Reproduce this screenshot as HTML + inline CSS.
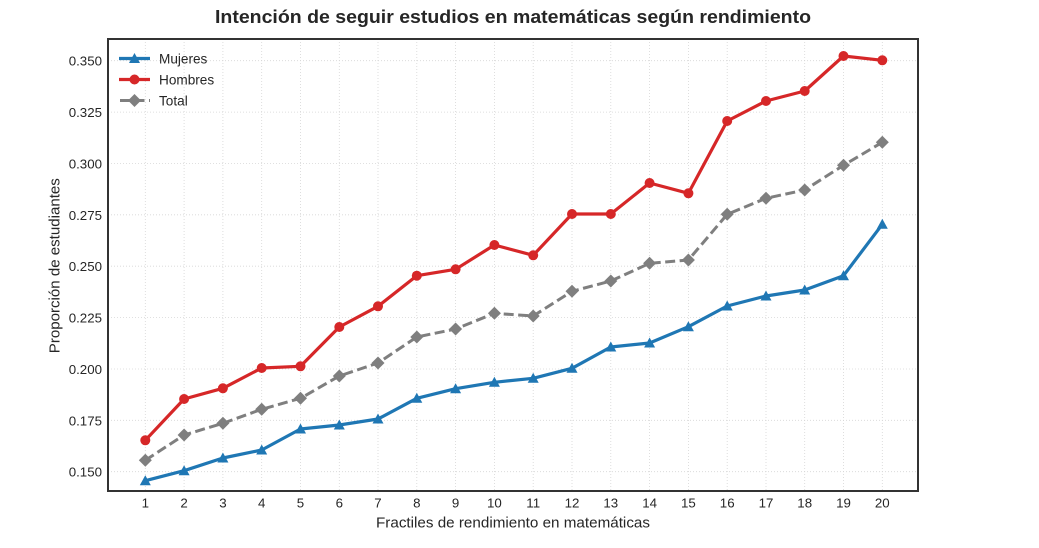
<!DOCTYPE html>
<html><head><meta charset="utf-8"><style>
html,body{margin:0;padding:0;background:#fff;}
svg{display:block;}
text{font-family:"Liberation Sans",Arial,sans-serif;fill:#262626;}
</style></head><body>
<svg width="1039" height="548" viewBox="0 0 1039 548" xmlns="http://www.w3.org/2000/svg">
<rect width="1039" height="548" fill="#fff"/>
<text x="513" y="23" text-anchor="middle" font-size="18.5" font-weight="bold" textLength="596" lengthAdjust="spacingAndGlyphs">Intención de seguir estudios en matemáticas según rendimiento</text>
<g stroke="#d6d6d6" stroke-width="0.8" stroke-dasharray="1,2" fill="none">
<line x1="108" x2="918" y1="471.7" y2="471.7"/>
<line x1="108" x2="918" y1="420.3" y2="420.3"/>
<line x1="108" x2="918" y1="369.0" y2="369.0"/>
<line x1="108" x2="918" y1="317.6" y2="317.6"/>
<line x1="108" x2="918" y1="266.2" y2="266.2"/>
<line x1="108" x2="918" y1="214.8" y2="214.8"/>
<line x1="108" x2="918" y1="163.5" y2="163.5"/>
<line x1="108" x2="918" y1="112.1" y2="112.1"/>
<line x1="108" x2="918" y1="60.7" y2="60.7"/>
<line y1="39" y2="491" x1="145.3" x2="145.3"/>
<line y1="39" y2="491" x1="184.1" x2="184.1"/>
<line y1="39" y2="491" x1="222.9" x2="222.9"/>
<line y1="39" y2="491" x1="261.7" x2="261.7"/>
<line y1="39" y2="491" x1="300.5" x2="300.5"/>
<line y1="39" y2="491" x1="339.3" x2="339.3"/>
<line y1="39" y2="491" x1="378.0" x2="378.0"/>
<line y1="39" y2="491" x1="416.8" x2="416.8"/>
<line y1="39" y2="491" x1="455.6" x2="455.6"/>
<line y1="39" y2="491" x1="494.4" x2="494.4"/>
<line y1="39" y2="491" x1="533.2" x2="533.2"/>
<line y1="39" y2="491" x1="572.0" x2="572.0"/>
<line y1="39" y2="491" x1="610.8" x2="610.8"/>
<line y1="39" y2="491" x1="649.6" x2="649.6"/>
<line y1="39" y2="491" x1="688.4" x2="688.4"/>
<line y1="39" y2="491" x1="727.2" x2="727.2"/>
<line y1="39" y2="491" x1="766.0" x2="766.0"/>
<line y1="39" y2="491" x1="804.7" x2="804.7"/>
<line y1="39" y2="491" x1="843.5" x2="843.5"/>
<line y1="39" y2="491" x1="882.3" x2="882.3"/>
</g>
<g font-size="13.3" text-anchor="end">
<text x="102" y="476.7">0.150</text>
<text x="102" y="425.3">0.175</text>
<text x="102" y="374.0">0.200</text>
<text x="102" y="322.6">0.225</text>
<text x="102" y="271.2">0.250</text>
<text x="102" y="219.8">0.275</text>
<text x="102" y="168.5">0.300</text>
<text x="102" y="117.1">0.325</text>
<text x="102" y="65.7">0.350</text>
</g>
<g font-size="13.3" text-anchor="middle">
<text x="145.3" y="507.3">1</text>
<text x="184.1" y="507.3">2</text>
<text x="222.9" y="507.3">3</text>
<text x="261.7" y="507.3">4</text>
<text x="300.5" y="507.3">5</text>
<text x="339.3" y="507.3">6</text>
<text x="378.0" y="507.3">7</text>
<text x="416.8" y="507.3">8</text>
<text x="455.6" y="507.3">9</text>
<text x="494.4" y="507.3">10</text>
<text x="533.2" y="507.3">11</text>
<text x="572.0" y="507.3">12</text>
<text x="610.8" y="507.3">13</text>
<text x="649.6" y="507.3">14</text>
<text x="688.4" y="507.3">15</text>
<text x="727.2" y="507.3">16</text>
<text x="766.0" y="507.3">17</text>
<text x="804.7" y="507.3">18</text>
<text x="843.5" y="507.3">19</text>
<text x="882.3" y="507.3">20</text>
</g>
<text x="513" y="527.3" font-size="15" text-anchor="middle" textLength="274" lengthAdjust="spacingAndGlyphs">Fractiles de rendimiento en matemáticas</text>
<text transform="translate(59.3,265.7) rotate(-90)" font-size="15" text-anchor="middle" textLength="175" lengthAdjust="spacingAndGlyphs">Proporción de estudiantes</text>

<!-- Mujeres -->
<polyline fill="none" stroke="#1f77b4" stroke-width="3.2" stroke-linejoin="round" points="145.3,480.7 184.1,470.7 222.9,458 261.7,450 300.5,429 339.3,425 378.0,419 416.8,398.3 455.6,388.7 494.4,382.3 533.2,378.3 572.0,368.3 610.8,347 649.6,343 688.4,326.7 727.2,306 766.0,296 804.7,290 843.5,275.7 882.3,224.3"/>
<g fill="#1f77b4">
<path d="M145.3,475.2 l5.5,10 h-11z"/>
<path d="M184.1,465.2 l5.5,10 h-11z"/>
<path d="M222.9,452.5 l5.5,10 h-11z"/>
<path d="M261.7,444.5 l5.5,10 h-11z"/>
<path d="M300.5,423.5 l5.5,10 h-11z"/>
<path d="M339.3,419.5 l5.5,10 h-11z"/>
<path d="M378.0,413.5 l5.5,10 h-11z"/>
<path d="M416.8,392.8 l5.5,10 h-11z"/>
<path d="M455.6,383.2 l5.5,10 h-11z"/>
<path d="M494.4,376.8 l5.5,10 h-11z"/>
<path d="M533.2,372.8 l5.5,10 h-11z"/>
<path d="M572.0,362.8 l5.5,10 h-11z"/>
<path d="M610.8,341.5 l5.5,10 h-11z"/>
<path d="M649.6,337.5 l5.5,10 h-11z"/>
<path d="M688.4,321.2 l5.5,10 h-11z"/>
<path d="M727.2,300.5 l5.5,10 h-11z"/>
<path d="M766.0,290.5 l5.5,10 h-11z"/>
<path d="M804.7,284.5 l5.5,10 h-11z"/>
<path d="M843.5,270.2 l5.5,10 h-11z"/>
<path d="M882.3,218.8 l5.5,10 h-11z"/>
</g>

<!-- Hombres -->
<polyline fill="none" stroke="#d62728" stroke-width="3.2" stroke-linejoin="round" points="145.3,440.3 184.1,399 222.9,388.3 261.7,368 300.5,366.3 339.3,327 378.0,306.3 416.8,275.7 455.6,269.3 494.4,245 533.2,255.3 572.0,214 610.8,214 649.6,183 688.4,193.3 727.2,121 766.0,101 804.7,91 843.5,56 882.3,60.3"/>
<g fill="#d62728">
<circle cx="145.3" cy="440.3" r="5"/>
<circle cx="184.1" cy="399" r="5"/>
<circle cx="222.9" cy="388.3" r="5"/>
<circle cx="261.7" cy="368" r="5"/>
<circle cx="300.5" cy="366.3" r="5"/>
<circle cx="339.3" cy="327" r="5"/>
<circle cx="378.0" cy="306.3" r="5"/>
<circle cx="416.8" cy="275.7" r="5"/>
<circle cx="455.6" cy="269.3" r="5"/>
<circle cx="494.4" cy="245" r="5"/>
<circle cx="533.2" cy="255.3" r="5"/>
<circle cx="572.0" cy="214" r="5"/>
<circle cx="610.8" cy="214" r="5"/>
<circle cx="649.6" cy="183" r="5"/>
<circle cx="688.4" cy="193.3" r="5"/>
<circle cx="727.2" cy="121" r="5"/>
<circle cx="766.0" cy="101" r="5"/>
<circle cx="804.7" cy="91" r="5"/>
<circle cx="843.5" cy="56" r="5"/>
<circle cx="882.3" cy="60.3" r="5"/>
</g>

<!-- Total -->
<polyline fill="none" stroke="#7f7f7f" stroke-width="3" stroke-dasharray="10,4.5" stroke-linejoin="round" points="145.3,460.3 184.1,435 222.9,423.3 261.7,409.3 300.5,398.3 339.3,376 378.0,363 416.8,337 455.6,329 494.4,313.3 533.2,316 572.0,291.3 610.8,281 649.6,263.3 688.4,260 727.2,214.3 766.0,198.3 804.7,190 843.5,165.3 882.3,142.3"/>
<g fill="#7f7f7f">
<path d="M145.3,453.8 l6.5,6.5 l-6.5,6.5 l-6.5,-6.5z"/>
<path d="M184.1,428.5 l6.5,6.5 l-6.5,6.5 l-6.5,-6.5z"/>
<path d="M222.9,416.8 l6.5,6.5 l-6.5,6.5 l-6.5,-6.5z"/>
<path d="M261.7,402.8 l6.5,6.5 l-6.5,6.5 l-6.5,-6.5z"/>
<path d="M300.5,391.8 l6.5,6.5 l-6.5,6.5 l-6.5,-6.5z"/>
<path d="M339.3,369.5 l6.5,6.5 l-6.5,6.5 l-6.5,-6.5z"/>
<path d="M378.0,356.5 l6.5,6.5 l-6.5,6.5 l-6.5,-6.5z"/>
<path d="M416.8,330.5 l6.5,6.5 l-6.5,6.5 l-6.5,-6.5z"/>
<path d="M455.6,322.5 l6.5,6.5 l-6.5,6.5 l-6.5,-6.5z"/>
<path d="M494.4,306.8 l6.5,6.5 l-6.5,6.5 l-6.5,-6.5z"/>
<path d="M533.2,309.5 l6.5,6.5 l-6.5,6.5 l-6.5,-6.5z"/>
<path d="M572.0,284.8 l6.5,6.5 l-6.5,6.5 l-6.5,-6.5z"/>
<path d="M610.8,274.5 l6.5,6.5 l-6.5,6.5 l-6.5,-6.5z"/>
<path d="M649.6,256.8 l6.5,6.5 l-6.5,6.5 l-6.5,-6.5z"/>
<path d="M688.4,253.5 l6.5,6.5 l-6.5,6.5 l-6.5,-6.5z"/>
<path d="M727.2,207.8 l6.5,6.5 l-6.5,6.5 l-6.5,-6.5z"/>
<path d="M766.0,191.8 l6.5,6.5 l-6.5,6.5 l-6.5,-6.5z"/>
<path d="M804.7,183.5 l6.5,6.5 l-6.5,6.5 l-6.5,-6.5z"/>
<path d="M843.5,158.8 l6.5,6.5 l-6.5,6.5 l-6.5,-6.5z"/>
<path d="M882.3,135.8 l6.5,6.5 l-6.5,6.5 l-6.5,-6.5z"/>
</g>

<!-- Legend -->
<line x1="119" x2="150" y1="58.5" y2="58.5" stroke="#1f77b4" stroke-width="3.2"/>
<path d="M134.5,53 l5.5,10 h-11z" fill="#1f77b4"/>
<line x1="119" x2="150" y1="79.5" y2="79.5" stroke="#d62728" stroke-width="3.2"/>
<circle cx="134.5" cy="79.5" r="5" fill="#d62728"/>
<line x1="120" x2="150" y1="100.5" y2="100.5" stroke="#7f7f7f" stroke-width="3" stroke-dasharray="10,4.5"/>
<path d="M134.5,94 l6.5,6.5 l-6.5,6.5 l-6.5,-6.5z" fill="#7f7f7f"/>
<g font-size="13.6">
<text x="159" y="63.3">Mujeres</text>
<text x="159" y="84.3">Hombres</text>
<text x="159" y="105.3">Total</text>
</g>

<rect x="108" y="39" width="810" height="452" fill="none" stroke="#333" stroke-width="2"/>
</svg>
</body></html>
